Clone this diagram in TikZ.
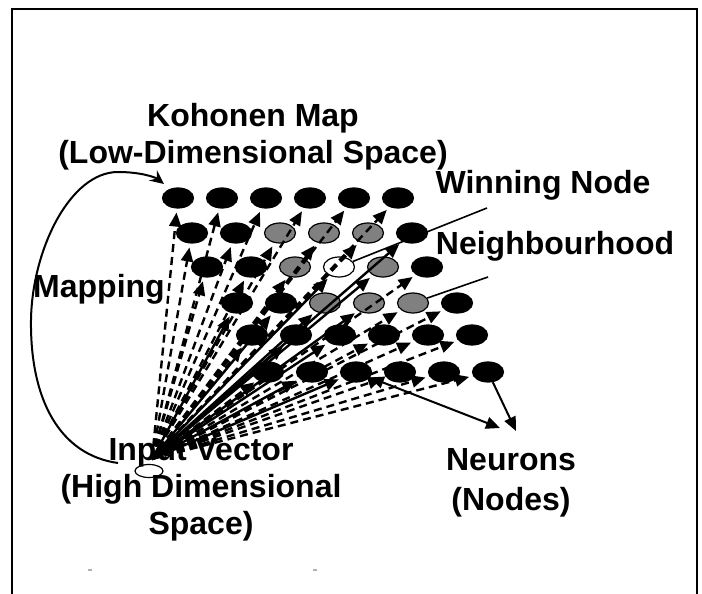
\documentclass[tikz,border=0pt]{standalone}
\usepackage{fontspec}
\setmainfont{Liberation Sans}
\usepackage{tikz}
\usetikzlibrary{arrows.meta,positioning,shapes.geometric}
\usepackage{xcolor}
\definecolor{nbgray}{HTML}{808080}

\begin{document}
\begin{tikzpicture}[x=0.5pt, y=-0.5pt,
  lbl/.style={font=\fontsize{16}{18.5}\selectfont\bfseries, align=center, inner sep=0pt},
  neuron/.style={ellipse, draw=black, line width=0.6pt, fill=black,
    minimum width=15.5pt, minimum height=10pt, inner sep=0pt},
  plain/.style={},
  hood/.style={fill=nbgray},
  winner/.style={fill=white},
  feed/.style={line width=1.2pt, dash pattern=on 4pt off 2.5pt, shorten >=2pt,
    -{Triangle[length=7pt,width=6pt]}},
  hot/.style={feed, solid},
  pointer/.style={line width=0.8pt},
  callout/.style={line width=1pt, -{Triangle[length=7pt,width=6pt]}}]
\useasboundingbox (0,0) rectangle (702,594);
% ---------------- frame ----------------
\draw[line width=1pt] (12,594) -- (12,9) -- (697,9) -- (697,594);
% ---------------- Kohonen map: 6 x 6 neurons ----------------
\foreach \r/\y/\xo/\kinds in {
  1/198/178/{plain,plain,plain,plain,plain,plain},
  2/233/192/{plain,plain,hood,hood,hood,plain},
  3/267/207/{plain,plain,hood,winner,hood,plain},
  4/303/237/{plain,plain,hood,hood,hood,plain},
  5/335/252/{plain,plain,plain,plain,plain,plain},
  6/372/268/{plain,plain,plain,plain,plain,plain}}{
  \foreach \k [count=\c] in \kinds
    \node[neuron, \k] (n-\r-\c) at ({\xo+44*(\c-1)}, \y) {};
}
% ---------------- input vector ----------------
\node[ellipse, draw=black, line width=0.6pt, fill=white, minimum width=14pt,
  minimum height=6.5pt, inner sep=0pt] (in) at (149,471) {};
\coordinate (src) at (152,459);
\foreach \r/\links in {
  1/{feed,feed,feed,feed,feed,feed},
  2/{feed,feed,feed,feed,feed,hot},
  3/{feed,feed,feed,hot,hot,feed},
  4/{hot,hot,hot,hot,feed,feed},
  5/{feed,hot,hot,feed,feed,feed},
  6/{feed,hot,hot,feed,feed,feed}}{
  \foreach \l [count=\c] in \links
    \draw[\l] (src) -- (n-\r-\c);
}
% ---------------- mapping arc ----------------
\coordinate (mapfrom) at (118,463);
\coordinate (mapto) at (164,184);
\draw[line width=1pt, -{Stealth[length=7pt,width=6.5pt,inset=2.5pt]}] (mapfrom)
  .. controls (60,455) and (30,400) .. (31,320)
  .. controls (32,250) and (70,172) .. (118,172)
  .. controls (140,172) and (155,177) .. (mapto);
% ---------------- labels ----------------
\node[lbl] (title) at (253,137) {Kohonen Map\\(Low-Dimensional Space)};
\node[lbl] (maplbl) at (99,289) {Mapping};
\node[lbl] (winlbl) at (543,185) {Winning Node};
\node[lbl] (nbhlbl) at (555,246) {Neighbourhood};
\node[lbl] (inlbl) at (201,490) {Input Vector\\(High Dimensional\\Space)};
\node[lbl] (neulbl) at (511,483) {Neurons\\[1.5pt](Nodes)};
% ---------------- pointers ----------------
\coordinate (wintip) at (487,208);
\coordinate (nbhtip) at (488,277);
\draw[pointer] (wintip) -- (n-3-4);
\draw[pointer] (nbhtip) -- (n-4-5);
\coordinate (neuA) at (500,428);
\coordinate (neuB) at (516,431);
\draw[callout, {Triangle[length=7pt,width=6pt]}-{Triangle[length=7pt,width=6pt]}] (n-6-3) -- (neuA);
\draw[callout] (n-6-6) -- (neuB);
% stray marks
\draw[gray!60, line width=0.6pt] (88,570) -- (92,570) (313,570) -- (317,570);
\end{tikzpicture}
\end{document}
